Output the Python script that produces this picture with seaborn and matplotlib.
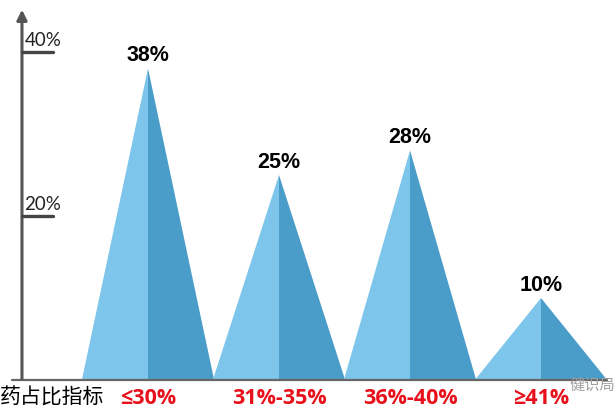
import numpy as np
import matplotlib.pyplot as plt
import seaborn as sns

categories = ["≤30%", "31%-35%", "36%-40%", "≥41%"]
shares = [38, 25, 28, 10]
value_labels = ["38%", "25%", "28%", "10%"]
y_ticks = [20, 40]
y_tick_labels = ["20%", "40%"]
axis_title = "药占比指标"
watermark = "健识局"

sns.set_theme(style="white")
plt.rcParams['font.family'] = ['Lato', 'Noto Sans CJK SC', 'DejaVu Sans']

light, dark = "#7dc5ea", "#4a9cc9"

fig = plt.figure(figsize=(6.16, 4.16), dpi=100)
ax = fig.add_axes([0, 0, 1, 1])
ax.set_axis_off()

# one data unit = 131 px in x, 8.2 px in y; baseline 36 px from bottom
ax.set_xlim(-148 / 131, 468 / 131)
ax.set_ylim(-36 / 8.2, 380 / 8.2)

x = np.arange(len(categories))
hw = 0.505
for xi, v, lab in zip(x, shares, value_labels):
    ax.fill([xi - hw, xi, xi], [0, v, 0], color=light, lw=0, zorder=2)
    ax.fill([xi, xi, xi + hw], [0, v, 0], color=dark, lw=0, zorder=2)
    ax.text(xi, v + 0.3, lab, ha="center", va="bottom", fontsize=15.5,
            fontweight="heavy", family=["Liberation Sans", "DejaVu Sans"],
            color="black", zorder=4)

# axes drawn by hand
x_axis = -0.962
ax.plot([-1.04, 3.50], [0, 0], color="#666666", lw=1.6, zorder=3)
ax.annotate("", xy=(x_axis, 45.5), xytext=(x_axis, -0.2),
            arrowprops=dict(arrowstyle="-|>,head_length=0.5,head_width=0.25",
                            color="#555555", lw=2.2), zorder=3)
for t, tl in zip(y_ticks, y_tick_labels):
    ax.plot([x_axis, x_axis + 0.235], [t, t], color="#444444", lw=2.4, zorder=3)
    ax.text(x_axis + 0.02, t + 0.4, tl, ha="left", va="bottom", fontsize=13.5,
            color="#222222", zorder=4)

for xi, c in zip(x, categories):
    ax.text(xi, -2.2, c, ha="center", va="center", fontsize=15.5,
            fontweight="bold", color="#e8101a",
            family=["Open Sans", "DejaVu Sans"], zorder=4)
ax.text(-148 / 131, -2.2, axis_title, ha="left", va="center", fontsize=15,
        color="black", family=["Noto Sans CJK SC", "DejaVu Sans"], zorder=4)
ax.text(3.39, -0.7, watermark, ha="center", va="center", fontsize=11,
        color="#a0a0a0", family=["Noto Sans CJK SC", "DejaVu Sans"], zorder=5)

fig.savefig("out.png", dpi=100)
